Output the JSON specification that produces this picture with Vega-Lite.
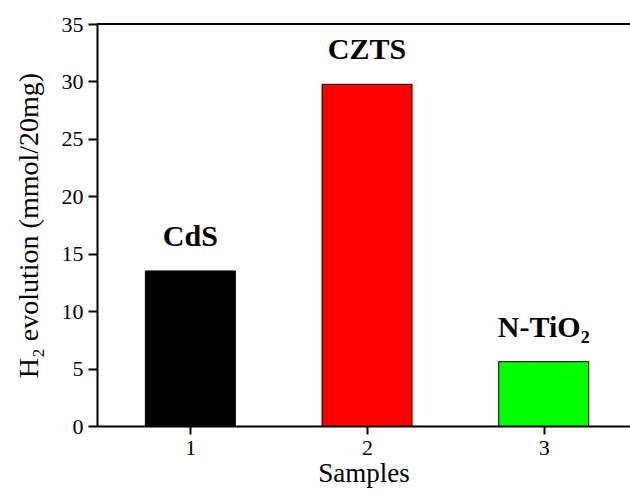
{
  "$schema": "https://vega.github.io/schema/vega-lite/v6.json",
  "width": 533,
  "height": 402,
  "autosize": {"type": "none"},
  "padding": {"left": 97, "top": 24, "right": 0, "bottom": 69},
  "background": "white",
  "config": {
    "view": {"stroke": null},
    "font": "Liberation Serif",
    "axis": {
      "labelFont": "Liberation Serif",
      "titleFont": "Liberation Serif",
      "labelColor": "black",
      "titleColor": "black",
      "domainColor": "black",
      "tickColor": "black",
      "domainWidth": 2,
      "tickWidth": 2,
      "grid": false,
      "titleFontWeight": "normal"
    }
  },
  "data": {
    "values": [
      {"sample": 1, "value": 13.5, "label": "CdS", "color": "#000000"},
      {"sample": 2, "value": 29.75, "label": "CZTS", "color": "#ff0000"},
      {"sample": 3, "value": 5.6, "label": "N-TiO₂", "color": "#00ff00"}
    ]
  },
  "layer": [
    {
      "mark": {"type": "bar", "size": 90, "stroke": "black", "strokeWidth": 1},
      "encoding": {
        "x": {
          "field": "sample",
          "type": "quantitative",
          "scale": {"domain": [0.5, 3.46], "nice": false, "zero": false},
          "axis": {
            "values": [1, 2, 3],
            "format": "d",
            "title": "Samples",
            "titleFontSize": 27,
            "labelFontSize": 22,
            "tickSize": 8,
            "labelPadding": 3,
            "titlePadding": 2
          }
        },
        "y": {
          "field": "value",
          "type": "quantitative",
          "scale": {"domain": [0, 35], "nice": false},
          "axis": {
            "values": [0, 2.5, 5, 7.5, 10, 12.5, 15, 17.5, 20, 22.5, 25, 27.5, 30, 32.5, 35],
            "labelExpr": "datum.value % 5 === 0 ? datum.label : ''",
            "tickSize": {"condition": {"test": "datum.value % 5 === 0", "value": 9}, "value": 5},
            "title": "H₂ evolution (mmol/20mg)",
            "titleFontSize": 28,
            "labelFontSize": 22,
            "labelPadding": 5,
            "titlePadding": 18
          }
        },
        "color": {"field": "color", "type": "nominal", "scale": null}
      }
    },
    {
      "mark": {"type": "text", "fontWeight": "bold", "fontSize": 30, "baseline": "alphabetic", "dy": -25, "font": "Liberation Serif", "color": "black"},
      "encoding": {
        "x": {"field": "sample", "type": "quantitative"},
        "y": {"field": "value", "type": "quantitative"},
        "text": {"field": "label"}
      }
    },
    {
      "mark": {"type": "rule", "strokeWidth": 2, "color": "black"},
      "encoding": {"y": {"datum": 35}}
    }
  ]
}
